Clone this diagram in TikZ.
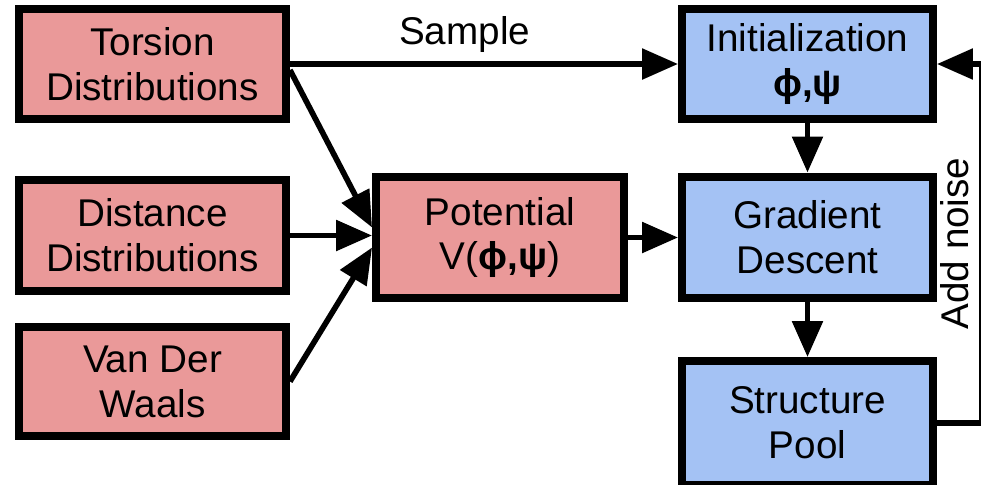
\documentclass[tikz,border=0pt]{standalone}
\usepackage{fontspec}
\setmainfont{Liberation Sans}
\usetikzlibrary{arrows.meta,calc}

\definecolor{boxred}{HTML}{EA9999}
\definecolor{boxblue}{HTML}{A4C2F4}

\tikzset{
	block/.style={draw, line width=4.55pt, align=center, inner sep=0pt},
	redblock/.style={block, fill=boxred},
	blueblock/.style={block, fill=boxblue},
	conn/.style={line width=3.2pt, -{Triangle[length=0.72cm,width=0.6cm]}},
}

\begin{document}
\begin{tikzpicture}[x=0.02cm, y=-0.02cm, font=\fontsize{22}{25.5}\selectfont]

	\useasboundingbox (0,0) rectangle (981,484);
	\clip (0,0) rectangle (981,484);

	% input distributions
	\node [redblock, minimum width=5.34cm, minimum height=2.2cm] (tors) at (152.5,64) {Torsion\\Distributions};
	\node [redblock, minimum width=5.34cm, minimum height=2.22cm] (dist) at (152.5,235.5) {Distance\\Distributions};
	\node [redblock, minimum width=5.34cm, minimum height=2.18cm] (vdw) at (152.5,381.5) {Van Der\\Waals};

	% potential
	\node [redblock, minimum width=4.96cm, minimum height=2.42cm] (pot) at (500,237.5) {Potential\\V(\textbf{ϕ,ψ})};

	% optimisation loop
	\node [blueblock, minimum width=5.02cm, minimum height=2.2cm] (init) at (807.5,64) {Initialization\\\textbf{ϕ,ψ}};
	\node [blueblock, minimum width=5.02cm, minimum height=2.44cm] (grad) at (807.5,237.5) {Gradient\\Descent};
	\node [blueblock, minimum width=5.02cm, minimum height=2.48cm] (pool) at (807.5,423) {Structure\\Pool};

	% sample torsions
	\draw [conn] (tors.east) -- (init.west) node [pos=0.45, above=1.5pt] (smp) {Sample};

	% build the potential
	\draw [conn] ($(tors.east)+(0,6)$) -- ($(pot.west)+(0,-10)$);
	\draw [conn] (dist.east) -- (pot.west |- dist.east);
	\draw [conn] (vdw.east) -- ($(pot.west)+(0,10)$);

	% descent
	\draw [conn] (pot) -- (grad);
	\draw [conn] (init) -- (grad);
	\draw [conn] (grad) -- (pool);

	% restart with noise
	\coordinate (rim) at (981.5,0);
	\draw [conn] (pool.east) -- (pool.east -| rim) |- (init.east) node [pos=0.25, rotate=90, anchor=south, inner sep=5.4pt] (noise) {Add noise};

\end{tikzpicture}
\end{document}
